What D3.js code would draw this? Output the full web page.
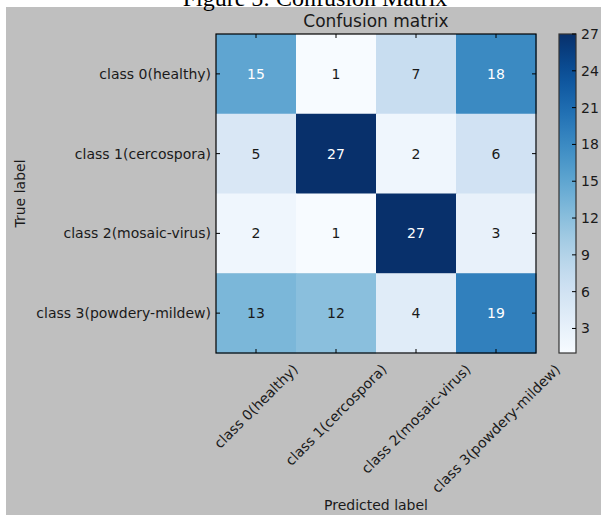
<!DOCTYPE html>
<html>
<head>
<meta charset="utf-8">
<script src="https://cdn.jsdelivr.net/npm/d3@7"></script>
<style>
  html, body { margin: 0; padding: 0; background: #ffffff; }
  svg { display: block; }
</style>
</head>
<body>
<svg id="chart" width="601" height="515"></svg>
<script>
// Class names (rows = true label, columns = predicted label)
const classes = [
  "class 0(healthy)",
  "class 1(cercospora)",
  "class 2(mosaic-virus)",
  "class 3(powdery-mildew)"
];
// Confusion-matrix counts, one row per true class
const row0 = [15, 1, 7, 18];
const row1 = [5, 27, 2, 6];
const row2 = [2, 1, 27, 3];
const row3 = [13, 12, 4, 19];
const matrix = [row0, row1, row2, row3];
// Colour-bar tick values
const colorbarTicks = [3, 6, 9, 12, 15, 18, 21, 24, 27];

const svg = d3.select("#chart");
const W = 601, H = 515;
const sansFont = "'DejaVu Sans', sans-serif";
const textColor = "#1a1a1a";
const fs = 14;

// figure background panel
svg.append("rect").attr("x", 6).attr("y", 7).attr("width", W - 6).attr("height", H - 7)
  .attr("fill", "#bfbfbf");

// caption above the panel (its upper part runs off the page)
svg.append("text").attr("x", 315).attr("y", 6)
  .attr("text-anchor", "middle")
  .attr("font-family", "'Liberation Serif', 'Times New Roman', serif")
  .attr("font-size", 24).attr("fill", "#000")
  .text("Figure 5: Confusion Matrix");

// plot geometry
const plot = { left: 216, top: 34, right: 536, bottom: 353 };
const x = d3.scaleBand().domain(d3.range(classes.length)).range([plot.left, plot.right]);
const y = d3.scaleBand().domain(d3.range(classes.length)).range([plot.top, plot.bottom]);

const flat = matrix.flatMap((r, i) => r.map((v, j) => ({ i, j, v })));
const vmin = d3.min(flat, d => d.v), vmax = d3.max(flat, d => d.v);
const color = d3.scaleSequential(d3.interpolateBlues).domain([vmin, vmax]);
const thresh = vmax / 2;

// cells
svg.append("g").selectAll("rect").data(flat).join("rect")
  .attr("x", d => x(d.j)).attr("y", d => y(d.i))
  .attr("width", x.bandwidth() + 0.5).attr("height", y.bandwidth() + 0.5)
  .attr("fill", d => color(d.v));

// cell values
svg.append("g").selectAll("text").data(flat).join("text")
  .attr("x", d => x(d.j) + x.bandwidth() / 2)
  .attr("y", d => y(d.i) + y.bandwidth() / 2)
  .attr("text-anchor", "middle").attr("dy", "0.35em")
  .attr("font-family", sansFont).attr("font-size", fs)
  .attr("fill", d => d.v > thresh ? "#ffffff" : textColor)
  .text(d => d.v);

// frame
svg.append("rect").attr("x", plot.left).attr("y", plot.top)
  .attr("width", plot.right - plot.left).attr("height", plot.bottom - plot.top)
  .attr("fill", "none").attr("stroke", "#000").attr("stroke-width", 1.2);

// inward ticks on all four sides
const tickLen = 4;
const tg = svg.append("g").attr("stroke", "#000").attr("stroke-width", 1);
d3.range(classes.length).forEach(k => {
  const cx = x(k) + x.bandwidth() / 2;
  const cy = y(k) + y.bandwidth() / 2;
  tg.append("line").attr("x1", cx).attr("x2", cx).attr("y1", plot.bottom).attr("y2", plot.bottom - tickLen);
  tg.append("line").attr("x1", cx).attr("x2", cx).attr("y1", plot.top).attr("y2", plot.top + tickLen);
  tg.append("line").attr("y1", cy).attr("y2", cy).attr("x1", plot.left).attr("x2", plot.left + tickLen);
  tg.append("line").attr("y1", cy).attr("y2", cy).attr("x1", plot.right).attr("x2", plot.right - tickLen);
});

// y tick labels
svg.append("g").selectAll("text").data(classes).join("text")
  .attr("x", plot.left - 5)
  .attr("y", (d, k) => y(k) + y.bandwidth() / 2)
  .attr("dy", "0.35em").attr("text-anchor", "end")
  .attr("font-family", sansFont).attr("font-size", fs).attr("fill", textColor)
  .text(d => d);

// x tick labels, rotated 45° and centred under each tick
const textH = fs * 1.17;
const xl = svg.append("g");
classes.forEach((c, k) => {
  const t = xl.append("text")
    .attr("font-family", sansFont).attr("font-size", fs).attr("fill", textColor)
    .attr("text-anchor", "middle").attr("dy", "0.35em")
    .text(c);
  const w = t.node().getComputedTextLength();
  const boxH = (w + textH) / Math.SQRT2;
  const cx = x(k) + x.bandwidth() / 2;
  const cy = plot.bottom + 8 + boxH / 2;
  t.attr("transform", `translate(${cx},${cy}) rotate(-45)`);
});

// axis titles
svg.append("text").attr("x", (plot.left + plot.right) / 2).attr("y", 27)
  .attr("text-anchor", "middle").attr("font-family", sansFont).attr("font-size", 17)
  .attr("fill", textColor).text("Confusion matrix");
svg.append("text").attr("x", (plot.left + plot.right) / 2).attr("y", 510)
  .attr("text-anchor", "middle").attr("font-family", sansFont).attr("font-size", fs)
  .attr("fill", textColor).text("Predicted label");
svg.append("text")
  .attr("transform", `translate(25,${(plot.top + plot.bottom) / 2}) rotate(-90)`)
  .attr("text-anchor", "middle").attr("font-family", sansFont).attr("font-size", fs)
  .attr("fill", textColor).text("True label");

// colour bar
const cb = { left: 559, right: 576, top: 34, bottom: 353 };
const cy = d3.scaleLinear().domain([vmin, vmax]).range([cb.bottom, cb.top]);
const defs = svg.append("defs");
const grad = defs.append("linearGradient").attr("id", "cbgrad")
  .attr("x1", 0).attr("y1", 1).attr("x2", 0).attr("y2", 0);
d3.range(0, 1.0001, 0.05).forEach(t => {
  grad.append("stop").attr("offset", t).attr("stop-color", d3.interpolateBlues(t));
});
svg.append("rect").attr("x", cb.left).attr("y", cb.top)
  .attr("width", cb.right - cb.left).attr("height", cb.bottom - cb.top)
  .attr("fill", "url(#cbgrad)");
svg.append("rect").attr("x", cb.left).attr("y", cb.top)
  .attr("width", cb.right - cb.left).attr("height", cb.bottom - cb.top)
  .attr("fill", "none").attr("stroke", "#333").attr("stroke-width", 1.2);

const cbAxis = d3.axisRight(cy).tickValues(colorbarTicks).tickSize(0).tickPadding(5);
const cbg = svg.append("g").attr("transform", `translate(${cb.right},0)`).call(cbAxis);
cbg.select(".domain").remove();
cbg.selectAll("text").attr("font-family", sansFont).attr("font-size", fs).attr("fill", textColor);
// inward ticks on the colour bar
colorbarTicks.forEach(v => {
  svg.append("line").attr("x1", cb.right).attr("x2", cb.right - 4)
    .attr("y1", cy(v)).attr("y2", cy(v)).attr("stroke", "#000").attr("stroke-width", 1);
});
</script>
</body>
</html>
